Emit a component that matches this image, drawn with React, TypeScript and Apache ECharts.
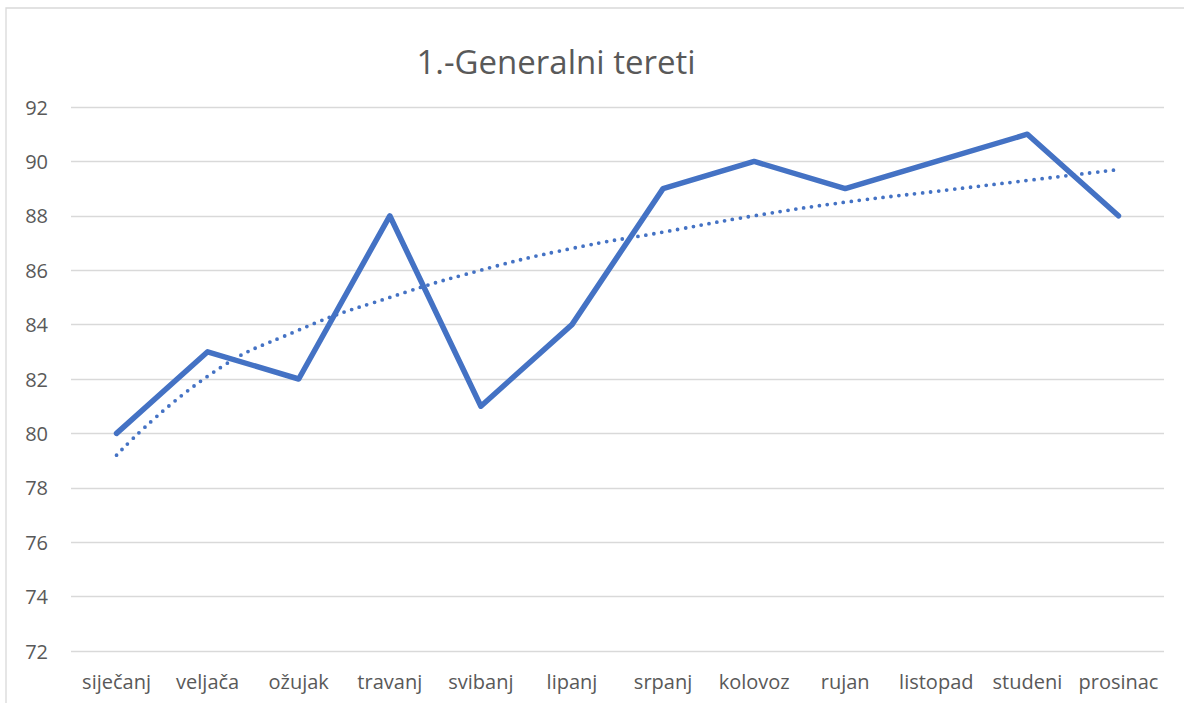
import React, { useEffect, useRef } from "react";
import * as echarts from "echarts";

const categories = [
  "siječanj", "veljača", "ožujak", "travanj", "svibanj", "lipanj",
  "srpanj", "kolovoz", "rujan", "listopad", "studeni", "prosinac",
];
const values = [80, 83, 82, 88, 81, 84, 89, 90, 89, 90, 91, 88];
const trendValues = [79.2, 82.1, 83.8, 85.0, 86.0, 86.8, 87.4, 88.0, 88.5, 88.9, 89.3, 89.7];
const titleText = "1.-Generalni tereti";

export default function App() {
  const ref = useRef<HTMLDivElement>(null);
  useEffect(() => {
    if (!ref.current) return;
    const chart = echarts.init(ref.current, undefined, { renderer: "svg" });
    const font = "'Open Sans', 'Noto Sans', sans-serif";
    chart.setOption({
      animation: false,
      backgroundColor: "#ffffff",
      title: {
        text: titleText,
        left: 551,
        top: 40,
        textAlign: "center",
        textStyle: { fontFamily: font, fontSize: 33, fontWeight: "normal", color: "#595959" },
      },
      graphic: [
        {
          type: "rect",
          shape: { x: 6, y: 8, width: 1300, height: 800 },
          style: { fill: "none", stroke: "#d9d9d9", lineWidth: 1.3 },
          silent: true,
        },
      ],
      grid: { left: 71, right: 20, top: 107, bottom: 52, containLabel: false },
      xAxis: {
        type: "category",
        data: categories,
        boundaryGap: true,
        axisLine: { show: false },
        axisTick: { show: false },
        axisLabel: { color: "#595959", fontFamily: font, fontSize: 20, margin: 20, interval: 0 },
      },
      yAxis: {
        type: "value",
        min: 72,
        max: 92,
        interval: 2,
        axisLine: { show: false },
        axisTick: { show: false },
        axisLabel: { color: "#595959", fontFamily: font, fontSize: 20, margin: 23 },
        splitLine: { lineStyle: { color: "#d9d9d9", width: 1.3 } },
      },
      series: [
        {
          type: "line",
          data: values,
          symbol: "none",
          lineStyle: { color: "#4472C4", width: 5.5, cap: "round", join: "round" },
          z: 3,
        },
        {
          type: "line",
          data: trendValues,
          symbol: "none",
          smooth: true,
          lineStyle: { color: "#4472C4", width: 3.8, type: [0, 8], cap: "round" },
          z: 2,
        },
      ],
    });
    return () => chart.dispose();
  }, []);
  return (
    <div
      ref={ref}
      style={{ position: "fixed", left: 0, top: 0, width: 1184, height: 703 }}
    />
  );
}
